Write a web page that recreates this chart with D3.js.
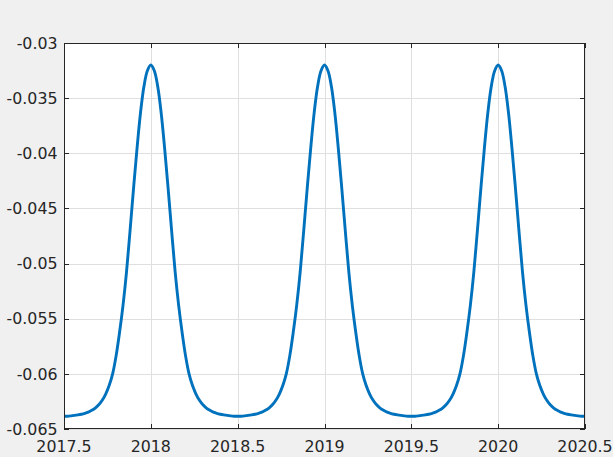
<!DOCTYPE html>
<html>
<head>
<meta charset="utf-8">
<script src="https://cdn.jsdelivr.net/npm/d3@7"></script>
<style>
  html, body { margin: 0; padding: 0; background: #f0f0f0; }
  svg { display: block; }
  text { font-family: "DejaVu Sans", sans-serif; }
</style>
</head>
<body>
<svg id="chart" width="613" height="457"></svg>
<script>
// ---- data ----
const xStart = 2017.5;      // first sample time
const xStep = 0.02;         // sampling interval (years)
const seriesValues = [
  -0.06385,-0.06384,-0.06381,-0.06377,-0.06372,-0.06366,-0.06358,-0.06347,-0.06331,-0.0631,-0.06281,-0.0624,-0.06183,-0.06106,-0.06,-0.05837,-0.05623,-0.05377,-0.05076,-0.04707,-0.04327,-0.03964,-0.0364,-0.03397,-0.03251,-0.032,
  -0.03251,-0.03397,-0.0364,-0.03964,-0.04327,-0.04707,-0.05076,-0.05377,-0.05623,-0.05837,-0.06,-0.06106,-0.06183,-0.0624,-0.06281,-0.0631,-0.06331,-0.06347,-0.06358,-0.06366,-0.06372,-0.06377,-0.06381,-0.06384,-0.06385,
  -0.06384,-0.06381,-0.06377,-0.06372,-0.06366,-0.06358,-0.06347,-0.06331,-0.0631,-0.06281,-0.0624,-0.06183,-0.06106,-0.06,-0.05837,-0.05623,-0.05377,-0.05076,-0.04707,-0.04327,-0.03964,-0.0364,-0.03397,-0.03251,-0.032,
  -0.03251,-0.03397,-0.0364,-0.03964,-0.04327,-0.04707,-0.05076,-0.05377,-0.05623,-0.05837,-0.06,-0.06106,-0.06183,-0.0624,-0.06281,-0.0631,-0.06331,-0.06347,-0.06358,-0.06366,-0.06372,-0.06377,-0.06381,-0.06384,-0.06385,
  -0.06384,-0.06381,-0.06377,-0.06372,-0.06366,-0.06358,-0.06347,-0.06331,-0.0631,-0.06281,-0.0624,-0.06183,-0.06106,-0.06,-0.05837,-0.05623,-0.05377,-0.05076,-0.04707,-0.04327,-0.03964,-0.0364,-0.03397,-0.03251,-0.032,
  -0.03251,-0.03397,-0.0364,-0.03964,-0.04327,-0.04707,-0.05076,-0.05377,-0.05623,-0.05837,-0.06,-0.06106,-0.06183,-0.0624,-0.06281,-0.0631,-0.06331,-0.06347,-0.06358,-0.06366,-0.06372,-0.06377,-0.06381,-0.06384,-0.06385
];
const xTicks = [2017.5, 2018, 2018.5, 2019, 2019.5, 2020, 2020.5];
const xTickLabels = ["2017.5", "2018", "2018.5", "2019", "2019.5", "2020", "2020.5"];
const yTicks = [-0.03, -0.035, -0.04, -0.045, -0.05, -0.055, -0.06, -0.065];
const yTickLabels = ["-0.03", "-0.035", "-0.04", "-0.045", "-0.05", "-0.055", "-0.06", "-0.065"];

const points = seriesValues.map((v, i) => ({ x: xStart + i * xStep, y: v }));

// ---- layout ----
const L = 64, R = 585, T = 43, B = 429;
const svg = d3.select("#chart");
const x = d3.scaleLinear().domain([2017.5, 2020.5]).range([L, R]);
const y = d3.scaleLinear().domain([-0.065, -0.03]).range([B, T]);
const axisColor = "#262626";
const tickLen = 5;
const fontSize = "15.8px";

svg.append("rect").attr("x", L).attr("y", T).attr("width", R - L).attr("height", B - T).attr("fill", "#ffffff");

svg.append("defs").append("clipPath").attr("id", "clip")
  .append("rect").attr("x", L).attr("y", T).attr("width", R - L).attr("height", B - T);

// grid
const grid = svg.append("g").attr("stroke", "#dfdfdf").attr("stroke-width", 1);
xTicks.forEach(t => {
  const px = Math.round(x(t)) + 0.5;
  grid.append("line").attr("x1", px).attr("x2", px).attr("y1", T).attr("y2", B);
});
yTicks.forEach(t => {
  const py = Math.round(y(t)) + 0.5;
  grid.append("line").attr("x1", L).attr("x2", R).attr("y1", py).attr("y2", py);
});

// curve
const line = d3.line().x(d => x(d.x)).y(d => y(d.y)).curve(d3.curveCatmullRom.alpha(0.5));
svg.append("path").datum(points)
  .attr("clip-path", "url(#clip)")
  .attr("fill", "none").attr("stroke", "#0072BD").attr("stroke-width", 2.9)
  .attr("stroke-linejoin", "round")
  .attr("d", line);

// axes (box with inward ticks)
const ax = svg.append("g").attr("stroke", axisColor).attr("stroke-width", 1).attr("fill", "none");
ax.append("rect").attr("x", L + 0.5).attr("y", T + 0.5).attr("width", R - L - 1).attr("height", B - T - 1);
xTicks.forEach(t => {
  const px = Math.round(x(t)) + 0.5;
  ax.append("line").attr("x1", px).attr("x2", px).attr("y1", B).attr("y2", B - tickLen);
  ax.append("line").attr("x1", px).attr("x2", px).attr("y1", T).attr("y2", T + tickLen);
});
yTicks.forEach(t => {
  const py = Math.round(y(t)) + 0.5;
  ax.append("line").attr("x1", L).attr("x2", L + tickLen).attr("y1", py).attr("y2", py);
  ax.append("line").attr("x1", R).attr("x2", R - tickLen).attr("y1", py).attr("y2", py);
});

// tick labels
svg.append("g").selectAll("text").data(xTicks).join("text")
  .attr("x", d => x(d)).attr("y", 452)
  .attr("text-anchor", "middle").attr("fill", axisColor).style("font-size", fontSize)
  .text((d, i) => xTickLabels[i]);
svg.append("g").selectAll("text").data(yTicks).join("text")
  .attr("x", 57.5).attr("y", d => y(d)).attr("dy", "0.36em")
  .attr("text-anchor", "end").attr("fill", axisColor).style("font-size", fontSize)
  .text((d, i) => yTickLabels[i]);
</script>
</body>
</html>
